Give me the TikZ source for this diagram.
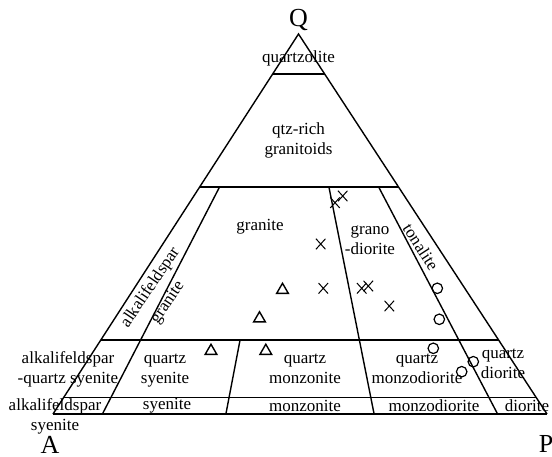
\documentclass[tikz,border=0pt]{standalone}
\usepackage{fontspec}
\setmainfont{Liberation Serif}
\usetikzlibrary{calc, positioning, shapes.geometric, shapes.misc}

\tikzset{
    field/.style={font=\fontsize{17}{20}\selectfont, align=center, inner sep=0pt},
    corner/.style={font=\fontsize{26}{28}\selectfont, inner sep=0pt},
    bound/.style={line width=1.4pt},
    tri/.style={regular polygon, regular polygon sides=3, draw, line width=1.4pt,
        minimum size=13.5pt, inner sep=0pt},
    crs/.style={cross out, draw, line width=1pt, minimum width=8.5pt,
        minimum height=9.5pt, inner sep=0pt},
    circ/.style={circle, draw, line width=1.2pt, minimum size=10.5pt, inner sep=0pt}
}

\begin{document}
\begin{tikzpicture}[x=1pt, y=-1pt]
    \useasboundingbox (0,0) rectangle (552,456);
    % corners of the QAP triangle
    \coordinate (A) at (53,414);
    \coordinate (P) at (547,414);
    \coordinate (Q) at (298.5,34);
    \draw[bound] (A) -- (Q) -- (P);
    \draw[line width=2pt] (A) -- (P);

    % horizontal field boundaries (Q = 90, 60, 20, 5)
    \foreach \q/\n in {0.895/q90, 0.597/q60, 0.195/q20, 0.043/q05} {
        \coordinate (\n-l) at ($(A)!\q!(Q)$);
        \coordinate (\n-r) at ($(P)!\q!(Q)$);
        \draw[bound] (\n-l) -- (\n-r);
    }

    % boundaries towards Q (P/(A+P) = 10, 35, 65, 90)
    \foreach \p/\n in {0.10/b10, 0.35/b35, 0.65/b65, 0.90/b90}
        \coordinate (\n) at ($(A)!\p!(P)$);
    \foreach \n/\q in {b10/0.597, b65/0.597, b90/0.597, b35/0.195}
        \draw[bound] (\n) -- ($(\n)!\q!(Q)$);

    % corner labels
    \node[corner] (Qlab) at (298.5,20) {Q};
    \node[corner] (Alab) at (50,445) {A};
    \node[corner] (Plab) at (546,444) {P};

    % field names
    \node[field] (qzl) at (298.5,58) {quartzolite};
    \node[field] (qrg) at (298.5,140) {qtz-rich\\granitoids};
    \node[field] (gra) at (260,227) {granite};
    \node[field] (grd) at (370,240) {grano\\-diorite};
    \node[field, rotate=-57] (ton) at (421,247) {tonalite};
    \node[field, rotate=56] (afg1) at (150.5,287.5) {alkalifeldspar};
    \node[field, rotate=56] (afg2) at (168,303) {granite};
    \node[field] (afqs) at (68,369) {alkalifeldspar\\-quartz syenite};
    \node[field] (qsy) at (165,371) {quartz\\syenite};
    \node[field] (qmz) at (305,369) {quartz\\monzonite};
    \node[field] (qmd) at (417,369) {quartz\\monzodiorite};
    \node[field] (qdi) at (503,364) {quartz\\diorite};
    \node[field] (afs) at (55,416) {alkalifeldspar\\syenite};
    \node[field] (sye) at (167,406) {syenite};
    \node[field] (mzn) at (305,406) {monzonite};
    \node[field] (mzd) at (434,406) {monzodiorite};
    \node[field] (dio) at (527,406) {diorite};

    % samples
    \foreach \x/\y [count=\i] in {282.5/290, 259.5/318.5, 211/351, 265.8/351}
        \node[tri] (t\i) at (\x,\y) {};
    \foreach \x/\y [count=\i] in {320.7/244, 323.3/288.3, 361.7/288.3, 368.3/286,
        389.3/306, 335/202.7, 342.7/196}
        \node[crs] (x\i) at (\x,\y) {};
    \foreach \x/\y [count=\i] in {437.3/288.3, 439.3/319.3, 433.3/348.3,
        473.3/361.7, 461.7/371.7}
        \node[circ] (o\i) at (\x,\y) {};
\end{tikzpicture}
\end{document}
